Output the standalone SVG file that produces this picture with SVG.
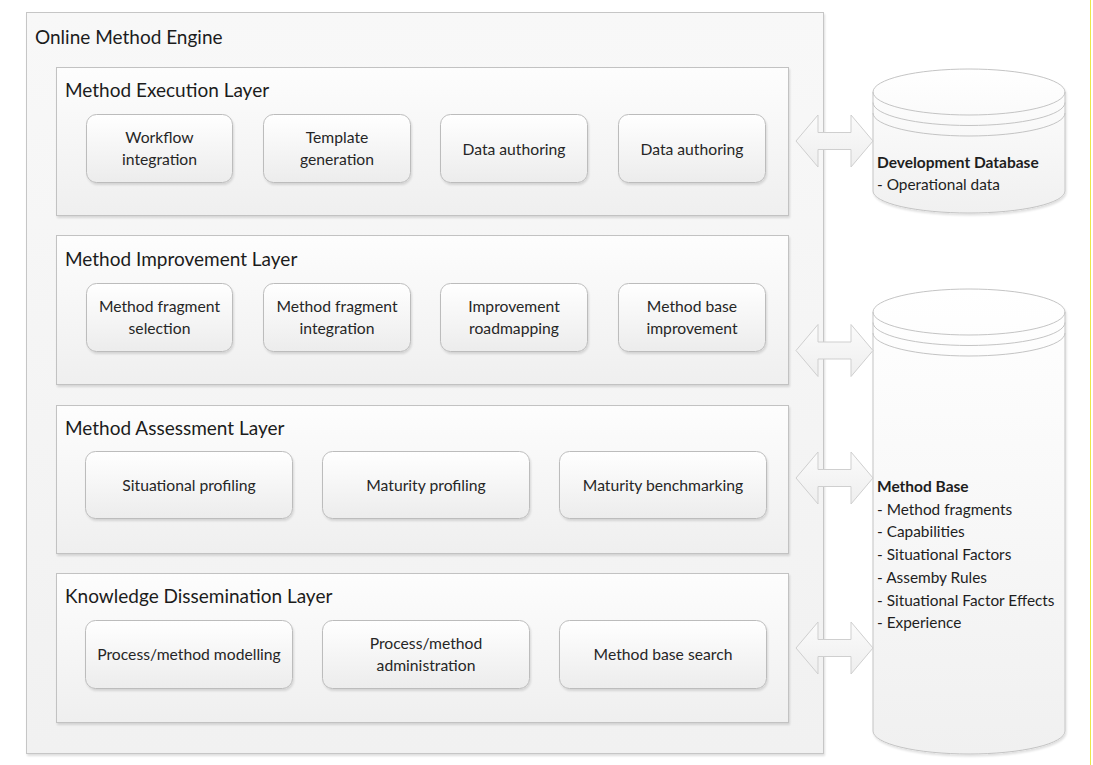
<svg xmlns="http://www.w3.org/2000/svg" width="1093" height="765" viewBox="0 0 1093 765">
  <style>
    .title { font-family: Lato, "Liberation Sans", sans-serif; font-size: 19px; fill: #1c1c1c; }
    .lbl { font-family: Lato, "Liberation Sans", sans-serif; font-size: 15.7px; fill: #262626; text-anchor: middle; }
    .db { font-family: Lato, "Liberation Sans", sans-serif; font-size: 15.4px; fill: #1e1e1e; }
    .db-head { font-weight: bold; font-size: 15.5px; }
    .outer { fill: url(#gOuter); stroke: #c6c6c6; stroke-width: 1; }
    .layer { fill: url(#gLayer); stroke: #c2c2c2; stroke-width: 1; filter: url(#shadow); }
    .box { fill: url(#gBox); stroke: #bcbcbc; stroke-width: 1; filter: url(#shadow); }
    .cyl { fill: url(#gCyl); stroke: #c4c4c4; stroke-width: 1; }
    .ring { fill: none; stroke: #c4c4c4; stroke-width: 1; }
    .arrow { fill: url(#gArrow); stroke: #cfcfcf; stroke-width: 1; }
  </style>
  <defs>
    <linearGradient id="gOuter" x1="0" y1="0" x2="0" y2="1">
      <stop offset="0" stop-color="#f8f8f8"/>
      <stop offset="1" stop-color="#f1f1f1"/>
    </linearGradient>
    <linearGradient id="gLayer" x1="0" y1="0" x2="0" y2="1">
      <stop offset="0" stop-color="#fdfdfd"/>
      <stop offset="1" stop-color="#efefef"/>
    </linearGradient>
    <linearGradient id="gBox" x1="0" y1="0" x2="0" y2="1">
      <stop offset="0" stop-color="#ffffff"/>
      <stop offset="1" stop-color="#ececec"/>
    </linearGradient>
    <linearGradient id="gCyl" x1="0" y1="0" x2="0" y2="1">
      <stop offset="0" stop-color="#ffffff"/>
      <stop offset="1" stop-color="#f0f0f0"/>
    </linearGradient>
    <linearGradient id="gArrow" x1="0" y1="0" x2="0" y2="1">
      <stop offset="0" stop-color="#fbfbfb"/>
      <stop offset="1" stop-color="#eeeeee"/>
    </linearGradient>
    <filter id="shadow" x="-5%" y="-5%" width="115%" height="120%">
      <feGaussianBlur in="SourceAlpha" stdDeviation="1"/>
      <feOffset dx="1" dy="1.5" result="off"/>
      <feComponentTransfer><feFuncA type="linear" slope="0.13"/></feComponentTransfer>
      <feMerge><feMergeNode/><feMergeNode in="SourceGraphic"/></feMerge>
    </filter>
    <!-- double-headed block arrow, centred on y=0 -->
    <path id="dblArrow" d="M796,0 L818,-26 L818,-8.5 L851,-8.5 L851,-26 L873,0 L851,26 L851,8.5 L818,8.5 L818,26 Z"/>
  </defs>

  <rect width="1093" height="765" fill="#ffffff"/>
  <line x1="1090.5" y1="0" x2="1090.5" y2="765" stroke="#ece84a" stroke-width="1"/>

  <g id="online-method-engine">
    <rect class="outer" x="26.5" y="12.5" width="797" height="741" filter="url(#shadow)"/>
    <text class="title" x="35" y="44">Online Method Engine</text>
  </g>

  <g id="method-execution-layer">
    <rect class="layer" x="56.5" y="67.5" width="732" height="148"/>
    <text class="title" x="65" y="97">Method Execution Layer</text>
  </g>
  <g id="workflow-integration">
    <rect class="box" x="86.5" y="114.5" width="146" height="68" rx="10"/>
    <text class="lbl" x="159.5" y="143">Workflow</text>
    <text class="lbl" x="159.5" y="165">integration</text>
  </g>
  <g id="template-generation">
    <rect class="box" x="263.5" y="114.5" width="147" height="68" rx="10"/>
    <text class="lbl" x="337" y="143">Template</text>
    <text class="lbl" x="337" y="165">generation</text>
  </g>
  <g id="data-authoring-1">
    <rect class="box" x="440.5" y="114.5" width="147" height="68" rx="10"/>
    <text class="lbl" x="514" y="155">Data authoring</text>
  </g>
  <g id="data-authoring-2">
    <rect class="box" x="618.5" y="114.5" width="147" height="68" rx="10"/>
    <text class="lbl" x="692" y="155">Data authoring</text>
  </g>

  <g id="method-improvement-layer">
    <rect class="layer" x="56.5" y="235.5" width="732" height="149"/>
    <text class="title" x="65" y="266">Method Improvement Layer</text>
  </g>
  <g id="method-fragment-selection">
    <rect class="box" x="86.5" y="283.5" width="146" height="68" rx="10"/>
    <text class="lbl" x="159.5" y="312">Method fragment</text>
    <text class="lbl" x="159.5" y="334">selection</text>
  </g>
  <g id="method-fragment-integration">
    <rect class="box" x="263.5" y="283.5" width="147" height="68" rx="10"/>
    <text class="lbl" x="337" y="312">Method fragment</text>
    <text class="lbl" x="337" y="334">integration</text>
  </g>
  <g id="improvement-roadmapping">
    <rect class="box" x="440.5" y="283.5" width="147" height="68" rx="10"/>
    <text class="lbl" x="514" y="312">Improvement</text>
    <text class="lbl" x="514" y="334">roadmapping</text>
  </g>
  <g id="method-base-improvement">
    <rect class="box" x="618.5" y="283.5" width="147" height="68" rx="10"/>
    <text class="lbl" x="692" y="312">Method base</text>
    <text class="lbl" x="692" y="334">improvement</text>
  </g>

  <g id="method-assessment-layer">
    <rect class="layer" x="56.5" y="405.5" width="732" height="148"/>
    <text class="title" x="65" y="435">Method Assessment Layer</text>
  </g>
  <g id="situational-profiling">
    <rect class="box" x="85.5" y="451.5" width="207" height="67" rx="10"/>
    <text class="lbl" x="189" y="491">Situational profiling</text>
  </g>
  <g id="maturity-profiling">
    <rect class="box" x="322.5" y="451.5" width="207" height="67" rx="10"/>
    <text class="lbl" x="426" y="491">Maturity profiling</text>
  </g>
  <g id="maturity-benchmarking">
    <rect class="box" x="559.5" y="451.5" width="207" height="67" rx="10"/>
    <text class="lbl" x="663" y="491">Maturity benchmarking</text>
  </g>

  <g id="knowledge-dissemination-layer">
    <rect class="layer" x="56.5" y="573.5" width="732" height="149"/>
    <text class="title" x="65" y="603">Knowledge Dissemination Layer</text>
  </g>
  <g id="process-method-modelling">
    <rect class="box" x="85.5" y="620.5" width="207" height="68" rx="10"/>
    <text class="lbl" x="189" y="660">Process/method modelling</text>
  </g>
  <g id="process-method-administration">
    <rect class="box" x="322.5" y="620.5" width="207" height="68" rx="10"/>
    <text class="lbl" x="426" y="649">Process/method</text>
    <text class="lbl" x="426" y="671">administration</text>
  </g>
  <g id="method-base-search">
    <rect class="box" x="559.5" y="620.5" width="207" height="68" rx="10"/>
    <text class="lbl" x="663" y="660">Method base search</text>
  </g>

  <g id="development-database">
    <path class="cyl" filter="url(#shadow)" d="M873,92 A96,23 0 0,1 1065,92 L1065,191 A96,22 0 0,1 873,191 Z"/>
    <path class="ring" d="M873,92 A96,23 0 0,0 1065,92 M873,102.5 A96,23 0 0,0 1065,102.5 M873,113 A96,23 0 0,0 1065,113"/>
    <text class="db db-head" x="877" y="168">Development Database</text>
    <text class="db" x="877" y="190">- Operational data</text>
  </g>

  <g id="method-base">
    <path class="cyl" filter="url(#shadow)" d="M873,312 A96,23 0 0,1 1065,312 L1065,731 A96,23 0 0,1 873,731 Z"/>
    <path class="ring" d="M873,312 A96,23 0 0,0 1065,312 M873,322.5 A96,23 0 0,0 1065,322.5 M873,333 A96,23 0 0,0 1065,333"/>
    <text class="db db-head" x="877" y="492">Method Base</text>
    <text class="db" x="877" y="514.7">- Method fragments</text>
    <text class="db" x="877" y="537.4">- Capabilities</text>
    <text class="db" x="877" y="560">- Situational Factors</text>
    <text class="db" x="877" y="582.8">- Assemby Rules</text>
    <text class="db" x="877" y="605.5">- Situational Factor Effects</text>
    <text class="db" x="877" y="628">- Experience</text>
  </g>

  <g id="connectors">
    <use href="#dblArrow" class="arrow" transform="translate(0,141)"/>
    <use href="#dblArrow" class="arrow" transform="translate(0,350.5)"/>
    <use href="#dblArrow" class="arrow" transform="translate(0,478)"/>
    <use href="#dblArrow" class="arrow" transform="translate(0,648)"/>
  </g>
</svg>
